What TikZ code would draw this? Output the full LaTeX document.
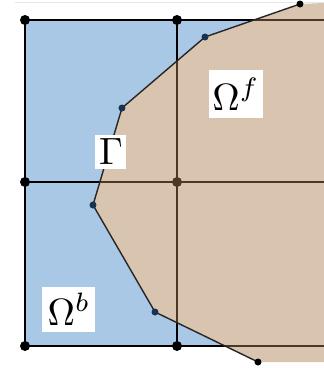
\documentclass[tikz,border=0pt]{standalone}
\usepackage{graphicx}
\definecolor{bluefill}{RGB}{168,200,230}
\definecolor{tanfill}{RGB}{217,197,175}
\definecolor{brownline}{RGB}{75,55,35}
\definecolor{vertdot}{RGB}{25,50,80}
\tikzset{
  gridline/.style={line width=1.3pt,black},
  bigdot/.style={circle,fill=black,inner sep=0pt,minimum size=10pt},
  smalldot/.style={circle,fill=vertdot,inner sep=0pt,minimum size=7pt},
  labelbox/.style={fill=white,inner sep=0pt},
  iface/.style={line width=1.4pt,black!85}
}
\newcommand{\biglabel}[1]{\scalebox{3.8}{$#1$}}
\begin{document}
\begin{tikzpicture}[x=1pt,y=-1pt]
\useasboundingbox (0,0) rectangle (324,368);
% faint top line
\draw[black!10,line width=0.8pt] (15,2.5) -- (324,2.5);
% background blue domain
\fill[bluefill] (25,20) rectangle (324,346);
% grid lines
\draw[gridline] (25,20) -- (324,20);
\draw[gridline] (25,182) -- (324,182);
\draw[gridline] (25,346) -- (324,346);
\draw[gridline] (25,20) -- (25,346);
\draw[gridline] (177,20) -- (177,346);
% fluid polygon
\coordinate (p1) at (300,4);
\coordinate (p2) at (205,37);
\coordinate (p3) at (122,108);
\coordinate (p4) at (93,205);
\coordinate (p5) at (155,312);
\coordinate (p6) at (258,362);
\fill[tanfill] (p1) -- (p2) -- (p3) -- (p4) -- (p5) -- (p6) -- (324,362) -- (324,3) -- cycle;
\begin{scope}
\clip (p1) -- (p2) -- (p3) -- (p4) -- (p5) -- (p6) -- (324,362) -- (324,3) -- cycle;
\draw[line width=1.3pt,brownline] (25,20) -- (324,20);
\draw[line width=1.3pt,brownline] (25,182) -- (324,182);
\draw[line width=1.3pt,brownline] (25,346) -- (324,346);
\draw[line width=1.3pt,brownline] (177,20) -- (177,346);
\end{scope}
% interface
\draw[iface] (p1) -- (p2) -- (p3) -- (p4) -- (p5) -- (p6);
% grid nodes
\node[bigdot] (g1) at (25,20) {};
\node[bigdot] (g2) at (177,20) {};
\node[bigdot] (g3) at (25,182) {};
\node[bigdot,fill=brownline] (g4) at (177,182) {};
\node[bigdot] (g5) at (25,346) {};
\node[bigdot] (g6) at (177,346) {};
% interface vertices
\node[smalldot,fill=black] (v1) at (p1) {};
\node[smalldot] (v2) at (p2) {};
\node[smalldot] (v3) at (p3) {};
\node[smalldot] (v4) at (p4) {};
\node[smalldot] (v5) at (p5) {};
\node[smalldot,fill=black] (v6) at (p6) {};
% labels
\node[labelbox,minimum width=54pt,minimum height=48pt] (of) at (236,94) {\biglabel{\Omega^f}};
\node[labelbox,minimum width=31pt,minimum height=34pt] (gam) at (111,152) {\biglabel{\Gamma}};
\node[labelbox,minimum width=53pt,minimum height=45pt] (ob) at (69,309) {\biglabel{\Omega^b}};
\end{tikzpicture}
\end{document}
